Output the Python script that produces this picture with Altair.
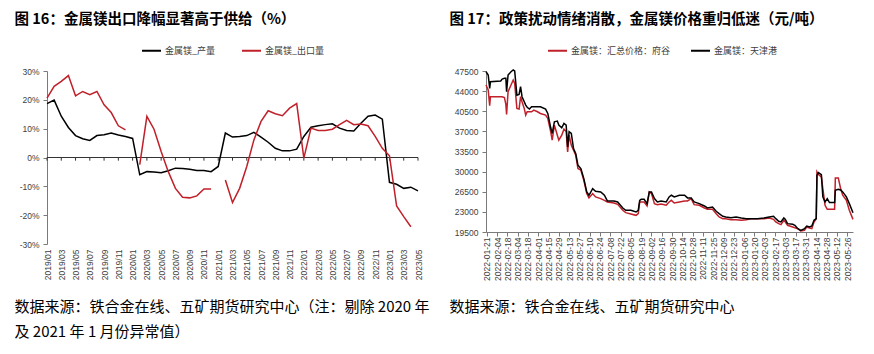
import altair as alt
import pandas as pd

# ---------------- left panel data (monthly, % yoy) ----------------
months = [f"{y}/{m:02d}" for y in range(2019, 2024) for m in range(1, 13)][:53]
production = [18.7, 19.9, 14.3, 10.4, 7.6, 6.5, 5.9, 7.6, 7.9, 8.5, 7.8, 7.3,
              6.6, -6.0, -4.9, -5.0, -5.3, -4.6, -3.7, -3.8, -4.1, -4.5, -4.5, -4.9,
              -3.1, 8.5, 7.1, 7.3, 7.6, 8.7, 7.1, 5.3, 3.2, 2.3, 2.3, 2.9,
              7.3, 10.5, 11.0, 11.4, 11.7, 10.2, 9.4, 9.2, 11.9, 14.3, 14.7, 13.3,
              -8.6, -9.3, -10.7, -10.3, -11.6]
export = [20.6, 24.7, 26.4, 28.4, 21.4, 22.9, 21.8, 22.9, 18.3, 15.6, 11.0, 9.6,
          None, -2.5, 14.3, 9.8, 2.1, -4.9, -10.7, -13.8, -14.0, -13.3, -10.9, -10.9,
          None, -7.8, -15.6, -10.7, -3.1, 6.1, 12.5, 16.2, 15.2, 14.5, 17.1, 18.7,
          -0.2, 10.2, 9.4, 9.4, 9.8, 11.4, 12.9, 11.4, 11.6, 11.0, 7.3, 3.2,
          0.6, -16.8, -20.5, -24.0, None]
left_ticks = [-30, -20, -10, 0, 10, 20, 30]

# ---------------- right panel data (daily prices, yuan/ton) ----------------
dates = ["2022-01-20", "2022-01-23", "2022-01-25", "2022-01-26", "2022-02-09", "2022-02-11", "2022-02-14", "2022-02-16", "2022-02-17", "2022-02-19",
         "2022-02-23", "2022-02-26", "2022-02-28", "2022-03-03", "2022-03-06", "2022-03-08", "2022-03-10", "2022-03-13", "2022-03-15", "2022-03-17",
         "2022-03-20", "2022-03-23", "2022-03-26", "2022-03-31", "2022-04-04", "2022-04-11", "2022-04-14", "2022-04-18", "2022-04-20", "2022-04-23",
         "2022-04-27", "2022-04-29", "2022-05-03", "2022-05-06", "2022-05-09", "2022-05-11", "2022-05-13", "2022-05-16", "2022-05-19", "2022-05-22",
         "2022-05-25", "2022-05-29", "2022-06-02", "2022-06-06", "2022-06-09", "2022-06-14", "2022-06-18", "2022-06-25", "2022-06-30", "2022-07-04",
         "2022-07-13", "2022-07-18", "2022-07-25", "2022-07-29", "2022-08-05", "2022-08-12", "2022-08-15", "2022-08-17",
         "2022-08-19", "2022-08-23", "2022-08-27", "2022-08-30", "2022-09-02", "2022-09-06", "2022-09-10", "2022-09-15", "2022-09-22", "2022-09-26",
         "2022-09-29", "2022-10-03", "2022-10-10", "2022-10-17", "2022-10-21", "2022-10-26", "2022-10-30", "2022-11-06", "2022-11-13", "2022-11-17",
         "2022-11-24", "2022-11-29", "2022-12-03", "2022-12-08", "2022-12-12", "2022-12-19", "2022-12-26", "2023-01-02", "2023-01-09", "2023-01-15",
         "2023-01-24", "2023-02-02", "2023-02-09", "2023-02-15", "2023-02-18", "2023-02-22", "2023-02-25", "2023-03-01", "2023-03-03", "2023-03-06",
         "2023-03-13", "2023-03-16", "2023-03-20", "2023-03-24", "2023-03-29", "2023-04-01", "2023-04-05", "2023-04-08", "2023-04-11", "2023-04-14",
         "2023-04-15", "2023-04-17", "2023-04-21", "2023-04-23", "2023-04-26", "2023-04-29", "2023-05-02", "2023-05-09", "2023-05-10", "2023-05-14",
         "2023-05-17", "2023-05-20", "2023-05-25", "2023-05-29", "2023-06-03"]
tianjin = [47400, 46800, 44480, 45640, 45760, 46100, 46220, 46220, 43900, 46800,
           47380, 47670, 47500, 43300, 43430, 44770, 43030, 42150, 41570, 41200,
           40880, 41280, 41280, 41280, 41280, 40880, 40120, 37620, 36640, 38670,
           38790, 38090, 37620, 38380, 38090, 34310, 36930, 36640, 34020, 33150,
           31120, 30540, 28790, 26470, 25890, 27050, 26580, 26470, 25890, 24900,
           24900, 24720, 23680, 23270, 23270, 22980, 23270, 25010,
           25190, 25190, 24430, 26470, 26470, 25310, 24720, 24900, 24720, 25600,
           25890, 25600, 25890, 25890, 25430, 25430, 24720, 24430, 24030, 23680,
           23850, 23100, 22690, 22230, 22110, 21990, 22110, 21940, 21820, 21820,
           21820, 21940, 22110, 22230, 21820, 21360, 21240, 21940, 21700, 20950,
           20830, 20660, 20080, 19790, 20080, 20540, 20370, 20540, 21530, 21820,
           29370, 29840, 29480, 25600, 24720, 25310, 24610, 24610, 26760, 26940,
           26800, 26470, 25600, 24430, 22860]
fugu = [45060, 44190, 41460, 43030, 43030, 43030, 42900, 41690, 39950, 43900,
        45060, 45930, 45350, 40990, 40880, 43030, 42150, 40990, 39830, 40410,
        40410, 40410, 40700, 40410, 40120, 39830, 39250, 36930, 35470, 38090,
        36340, 35470, 36340, 37390, 37000, 33440, 36340, 34600, 33730, 32860,
        30540, 30250, 28500, 26180, 25430, 26180, 25600, 25310, 25000, 24720,
        24550, 24320, 23270, 22870, 22630, 22400, 22690, 24720,
        24720, 24720, 24030, 26470, 26180, 24430, 24260, 24380, 24150, 24720,
        25010, 24550, 24720, 24900, 24900, 25310, 24260, 24150, 23680, 23450,
        23450, 22690, 22110, 21820, 21820, 21640, 21640, 21530, 21640, 21820,
        21820, 21820, 21940, 21700, 21240, 20950, 20780, 21530, 21240, 20660,
        20370, 20250, 20080, 19670, 19790, 20370, 20200, 20080, 21240, 21820,
        29960, 29480, 29080, 27050, 24150, 23450, 23450, 23450, 28910, 28910,
        27160, 25890, 25010, 23270, 21700]
tick_dates = ["2022-01-21", "2022-02-04", "2022-02-18", "2022-03-04", "2022-03-18", "2022-04-01",
              "2022-04-15", "2022-04-29", "2022-05-13", "2022-05-27", "2022-06-10", "2022-06-24",
              "2022-07-08", "2022-07-22", "2022-08-05", "2022-08-19", "2022-09-02", "2022-09-16",
              "2022-09-30", "2022-10-14", "2022-10-28", "2022-11-11", "2022-11-25", "2022-12-09",
              "2022-12-23", "2023-01-06", "2023-01-20", "2023-02-03", "2023-02-17", "2023-03-03",
              "2023-03-17", "2023-03-31", "2023-04-14", "2023-04-28", "2023-05-12", "2023-05-26"]
right_ticks = [19500, 23000, 26500, 30000, 33500, 37000, 40500, 44000, 47500]

CJK = "Noto Sans CJK SC"
NUM = "Liberation Sans"
RED = "#C0202A"
BLK = "#000000"
AX = "#7A7A7A"
LAB = "#404040"


def build_long(xs, series, xname):
    rows = []
    for name, vals in series.items():
        seg = 0
        for x, v in zip(xs, vals):
            if v is None:
                seg += 1
                continue
            rows.append({xname: x, "value": v, "series": name, "seg": f"{name}-{seg}"})
    return pd.DataFrame(rows)


def ms(d):
    return int(pd.Timestamp(d, tz="UTC").timestamp() * 1000)


def legend(x, y, pad):
    return alt.Legend(orient="none", legendX=x, legendY=y, direction="horizontal", title=None,
                      symbolType="stroke", symbolSize=361, symbolStrokeWidth=2,
                      labelFont=CJK, labelFontSize=9, labelColor=LAB, labelOffset=3,
                      columnPadding=pad, padding=0)


# ---------------- left chart ----------------
s_prod, s_exp = "金属镁_产量", "金属镁_出口量"
df_l = build_long(months, {s_prod: production, s_exp: export}, "month")

x_l = alt.X("month:O", scale=alt.Scale(type="point", padding=0, domain=months),
            axis=alt.Axis(values=months[::2], labelAngle=-90, domain=False, ticks=False, labelPadding=5,
                          labelFont=NUM, labelFontSize=8.5, labelColor=LAB, labelOverlap=False,
                          title=["数据来源：铁合金在线、五矿期货研究中心（注：剔除 2020 年",
                                 "及 2021 年 1 月份异常值）"],
                          titleX=-33, titleY=67.5, titleAlign="left", titleAnchor="start",
                          titleBaseline="alphabetic", titleFont=CJK, titleFontSize=15,
                          titleFontWeight="normal", titleColor="#000000", titleLineHeight=25))
y_l = alt.Y("value:Q", scale=alt.Scale(domain=[-30, 30], nice=False, zero=False),
            axis=alt.Axis(values=left_ticks, labelExpr="datum.value + '%'", grid=False,
                          domainColor=AX, tickColor=AX, tickSize=4, labelPadding=4,
                          labelFont=NUM, labelFontSize=8.5, labelColor=LAB, labelOverlap=False,
                          title="图 16：金属镁出口降幅显著高于供给（%）", titleAngle=0,
                          titleX=-33, titleY=-51.5, titleAlign="left", titleAnchor="start",
                          titleBaseline="middle", titleFont=CJK, titleFontSize=14.5,
                          titleFontWeight="bold", titleColor="#000000"))

zero_l = alt.Chart(pd.DataFrame({"value": [0]})).mark_rule(color="#333333", strokeWidth=1).encode(y=y_l)
tick_df = pd.DataFrame({"month": months[::2], "value": [0] * len(months[::2]),
                        "low": [-1.1] * len(months[::2])})
ticks_l = alt.Chart(tick_df).mark_rule(color="#333333", strokeWidth=1).encode(
    x=x_l, y=y_l, y2="low:Q")
lines_l = alt.Chart(df_l).mark_line(strokeWidth=1.5).encode(
    x=x_l, y=y_l,
    color=alt.Color("series:N", scale=alt.Scale(domain=[s_prod, s_exp], range=[BLK, RED]),
                    legend=legend(94, -31, 22)),
    detail="seg:N")
left = alt.layer(zero_l, ticks_l, lines_l).properties(width=371, height=173)

# ---------------- right chart ----------------
s_fg, s_tj = "金属镁：汇总价格：府谷", "金属镁：天津港"
df_r = build_long(dates, {s_fg: fugu, s_tj: tianjin}, "date")

x_r = alt.X("date:T", scale=alt.Scale(type="utc", domain=[ms("2022-01-20"), ms("2023-06-03")]),
            axis=alt.Axis(values=[ms(d) for d in tick_dates],
                          labelExpr="utcFormat(datum.value, '%Y-%m-%d')",
                          labelAngle=-90, grid=False, domainColor=AX, tickColor=AX, tickSize=4,
                          labelPadding=1, labelFont=NUM, labelFontSize=8.5, labelColor=LAB,
                          labelOverlap=False,
                          title="数据来源：铁合金在线、五矿期货研究中心",
                          titleX=-37, titleY=79.5, titleAlign="left", titleAnchor="start",
                          titleBaseline="alphabetic", titleFont=CJK, titleFontSize=15,
                          titleFontWeight="normal", titleColor="#000000"))
y_r = alt.Y("value:Q", scale=alt.Scale(domain=[19500, 47500], nice=False, zero=False),
            axis=alt.Axis(values=right_ticks, format="d", grid=False,
                          domainColor=AX, tickColor=AX, tickSize=4, labelPadding=4,
                          labelFont=NUM, labelFontSize=8.5, labelColor=LAB, labelOverlap=False,
                          title="图 17：政策扰动情绪消散，金属镁价格重归低迷（元/吨）", titleAngle=0,
                          titleX=-37, titleY=-51.5, titleAlign="left", titleAnchor="start",
                          titleBaseline="middle", titleFont=CJK, titleFontSize=14.5,
                          titleFontWeight="bold", titleColor="#000000"))
right = alt.Chart(df_r).mark_line(strokeWidth=1.5).encode(
    x=x_r, y=y_r,
    color=alt.Color("series:N", scale=alt.Scale(domain=[s_fg, s_tj], range=[RED, BLK]),
                    legend=legend(61, -31, 16)),
    detail="seg:N").properties(width=367, height=161)

chart = alt.hconcat(left, right, spacing=68, bounds="flush").properties(
    padding={"left": 13, "top": 11, "right": 5, "bottom": 5}, background="white"
).configure_view(stroke="transparent").resolve_scale(color="independent", x="independent", y="independent")

chart.save("out.html", embed_options={"renderer": "svg", "actions": False})
